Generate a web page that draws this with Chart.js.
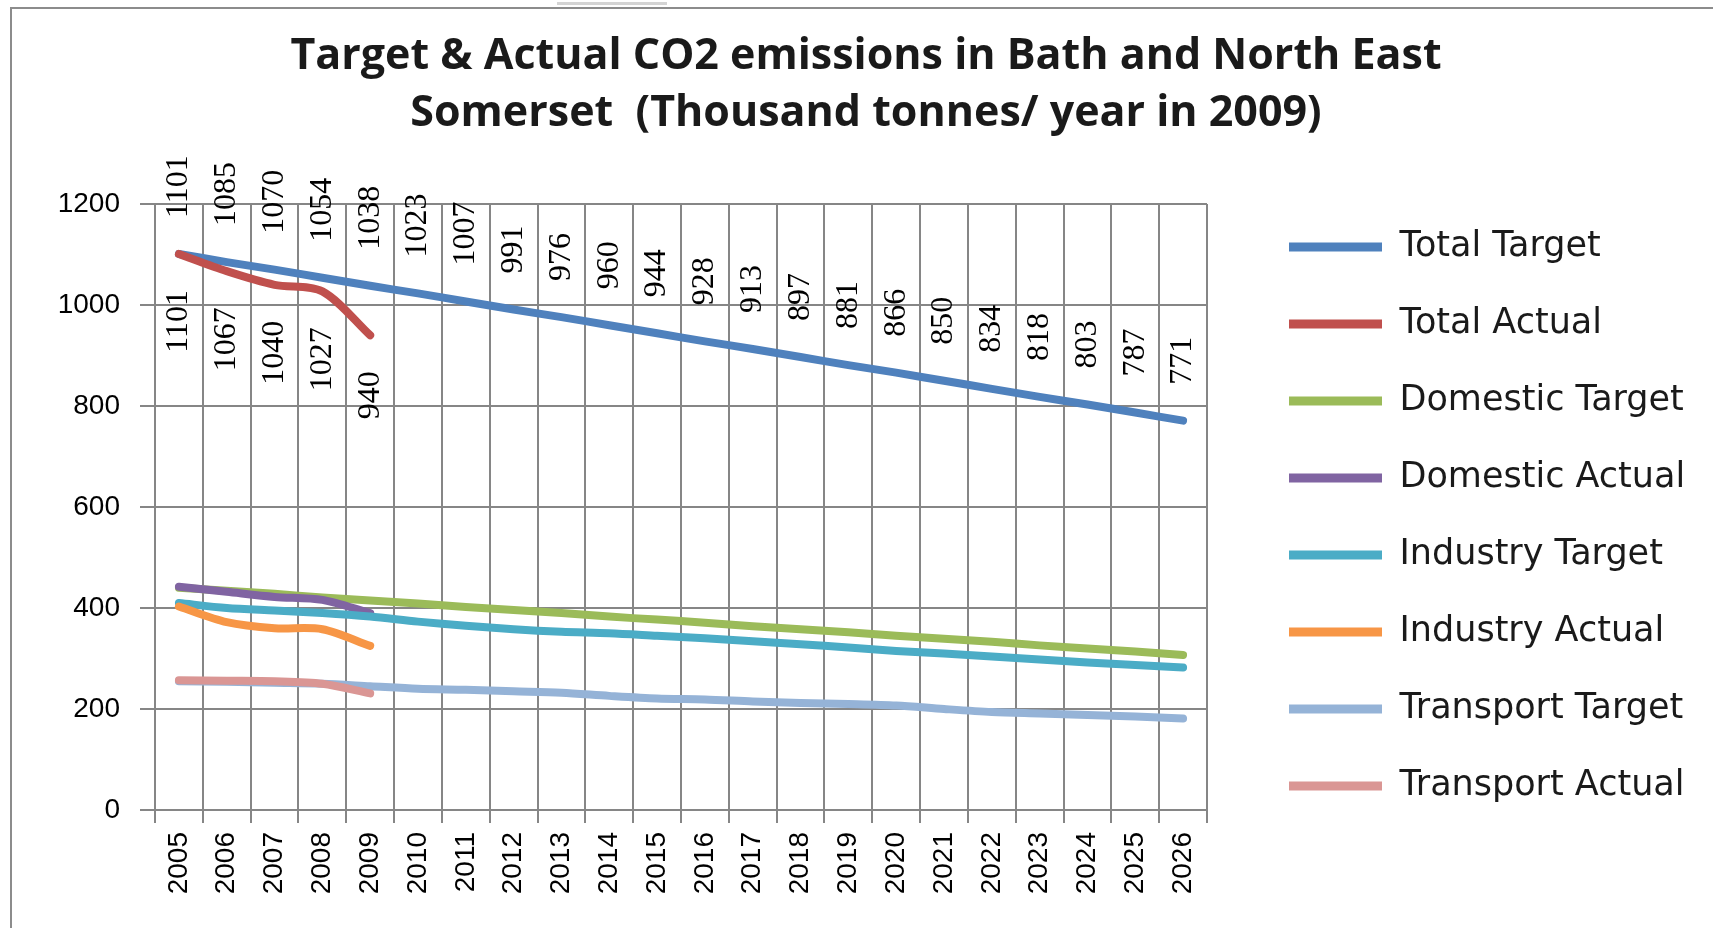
<!DOCTYPE html>
<html>
<head>
<meta charset="utf-8">
<script src="https://cdn.jsdelivr.net/npm/chart.js@4.4.1/dist/chart.umd.min.js"></script>
<style>
  html, body { margin: 0; padding: 0; background: #fff; overflow: hidden; }
  #wrap { position: relative; width: 1713px; height: 928px; }
  #frame { position: absolute; left: 10px; top: 7px; width: 1800px; height: 1000px;
           border: 2px solid #8c8c8c; box-sizing: border-box; pointer-events: none; }
  #nub { position: absolute; left: 557px; top: 2px; width: 110px; height: 3px; background: #d4d4d4; }
  canvas { position: absolute; left: 0; top: 0; }
</style>
</head>
<body>
<div id="wrap">
  <canvas id="chart" width="1713" height="928"></canvas>
  <div id="frame"></div>
  <div id="nub"></div>
</div>
<script>
const years = ['2005', '2006', '2007', '2008', '2009', '2010', '2011', '2012', '2013', '2014', '2015',
  '2016', '2017', '2018', '2019', '2020', '2021', '2022', '2023', '2024', '2025', '2026'];

const totalTarget = [1101, 1085, 1070, 1054, 1038, 1023, 1007, 991, 976, 960, 944,
  928, 913, 897, 881, 866, 850, 834, 818, 803, 787, 771];
const totalActual = [1101, 1067, 1040, 1027, 940];

const domesticTarget = [440, 434, 428, 421, 415, 409, 402, 396, 390, 383, 377,
  371, 364, 358, 352, 345, 339, 333, 326, 320, 314, 307];
const domesticActual = [442, 432, 422, 416, 390];

const industryTarget = [410, 400, 395, 390, 383, 373, 365, 358, 353, 350, 345,
  340, 334, 328, 322, 315, 310, 304, 298, 292, 287, 282];
const industryActual = [403, 372, 360, 358, 325];

const transportTarget = [255, 254, 252, 250, 245, 240, 238, 235, 232, 226, 221,
  219, 215, 212, 210, 207, 200, 194, 191, 188, 185, 181];
const transportActual = [257, 256, 255, 250, 231];

const yTicks = [0, 200, 400, 600, 800, 1000, 1200];

const series = [
  ['Total Target', totalTarget, '#4F81BD'],
  ['Total Actual', totalActual, '#C0504D'],
  ['Domestic Target', domesticTarget, '#9BBB59'],
  ['Domestic Actual', domesticActual, '#8064A2'],
  ['Industry Target', industryTarget, '#4BACC6'],
  ['Industry Actual', industryActual, '#F79646'],
  ['Transport Target', transportTarget, '#95B3D7'],
  ['Transport Actual', transportActual, '#DA9694']
];

const gridGrey = '#868686';

// layout targets (px): plot box and where the legend entries start
const W = 1713, plotLeft = 155, plotRight = 1207, titleCenter = 866, legendItemX = 1289;
const legendFont = { family: 'DejaVu Sans', size: 35 };
const legendPad = 42;
const legendBox = 93;

// legend width as Chart.js computes it, so the paddings can be set up front
const mctx = document.createElement('canvas').getContext('2d');
mctx.font = legendFont.size + 'px "' + legendFont.family + '"';
const maxText = Math.max(...series.map(s => mctx.measureText(s[0]).width));
const legendW = legendPad + legendBox + legendFont.size / 2 + maxText + 10;
const legendLeft = legendItemX - legendPad;
const padRight = Math.max(0, W - legendLeft - legendW);
const padLeft = 2 * titleCenter - W + padRight;

// value labels for the two total series, rotated, above / below the line
const rotatedLabels = {
  id: 'rotatedLabels',
  afterDatasetsDraw(chart) {
    const ctx = chart.ctx;
    ctx.save();
    ctx.font = '32px "Liberation Serif"';
    ctx.fillStyle = '#000';
    ctx.textBaseline = 'middle';
    [[0, 1], [1, -1]].forEach(([dsIndex, dir]) => {
      const meta = chart.getDatasetMeta(dsIndex);
      const values = chart.data.datasets[dsIndex].data;
      meta.data.forEach((pt, i) => {
        ctx.save();
        ctx.translate(pt.x, pt.y);
        ctx.rotate(-Math.PI / 2);
        ctx.textAlign = dir > 0 ? 'left' : 'right';
        ctx.fillText(String(values[i]), dir * 36, 0);
        ctx.restore();
      });
    });
    ctx.restore();
  }
};

new Chart(document.getElementById('chart'), {
  type: 'line',
  data: {
    labels: years,
    datasets: series.map(([label, data, color], i) => ({
      label,
      data,
      borderColor: color,
      backgroundColor: color,
      borderWidth: 8,
      pointRadius: 0,
      tension: 0.3,
      fill: false,
      borderCapStyle: 'round',
      borderJoinStyle: 'round',
      yAxisID: 'y',
      order: series.length - i // later series on top, like the original
    }))
  },
  options: {
    responsive: false,
    animation: false,
    devicePixelRatio: 1,
    layout: { padding: { left: padLeft, right: padRight, top: 0, bottom: 0 } },
    plugins: {
      tooltip: { enabled: false },
      title: {
        display: true,
        text: ['Target & Actual CO2 emissions in Bath and North East',
               'Somerset  (Thousand tonnes/ year in 2009)'],
        color: '#1a1a1a',
        font: { family: 'Open Sans', weight: 'bold', size: 43, lineHeight: 57 / 43 },
        padding: { top: 28.5, bottom: 61.5 }
      },
      legend: {
        position: 'right',
        align: 'center',
        maxWidth: 2000,
        title: { display: true, text: ' ', font: { size: 10, lineHeight: 1 }, padding: { top: 95, bottom: 0 } },
        labels: {
          boxWidth: legendBox,
          boxHeight: 9,
          useBorderRadius: true,
          borderRadius: 4,
          padding: legendPad,
          color: '#1a1a1a',
          font: legendFont,
          generateLabels(chart) {
            return chart.data.datasets.map((ds, i) => ({
              text: ds.label,
              fillStyle: ds.borderColor,
              strokeStyle: ds.borderColor,
              fontColor: '#1a1a1a',
              lineWidth: 0,
              hidden: false,
              datasetIndex: i
            }));
          }
        }
      }
    },
    scales: {
      x: {
        type: 'category',
        offset: true,
        grid: { offset: true, color: gridGrey, lineWidth: 2, tickLength: 13 },
        border: { color: gridGrey, width: 2 },
        ticks: {
          autoSkip: false, minRotation: 90, maxRotation: 90, padding: 9,
          color: '#000', font: { family: 'Liberation Sans', size: 28 }
        },
        afterFit(s) { s.height = 118; }
      },
      y: {
        min: yTicks[0],
        max: yTicks[yTicks.length - 1],
        afterBuildTicks(s) { s.ticks = yTicks.map(v => ({ value: v })); },
        grid: { color: gridGrey, lineWidth: 2, tickLength: 15 },
        border: { color: gridGrey, width: 2 },
        ticks: {
          padding: 20, color: '#000', font: { family: 'Liberation Sans', size: 28 },
          callback: v => String(v)
        },
        afterFit(s) { s.width = plotLeft - padLeft; }
      },
      gap: {
        type: 'linear',
        position: 'right',
        display: true,
        grid: { display: false, drawTicks: false },
        border: { display: false },
        ticks: { display: false },
        afterFit(s) { s.width = legendLeft - plotRight; }
      }
    }
  },
  plugins: [rotatedLabels]
});
</script>
</body>
</html>
